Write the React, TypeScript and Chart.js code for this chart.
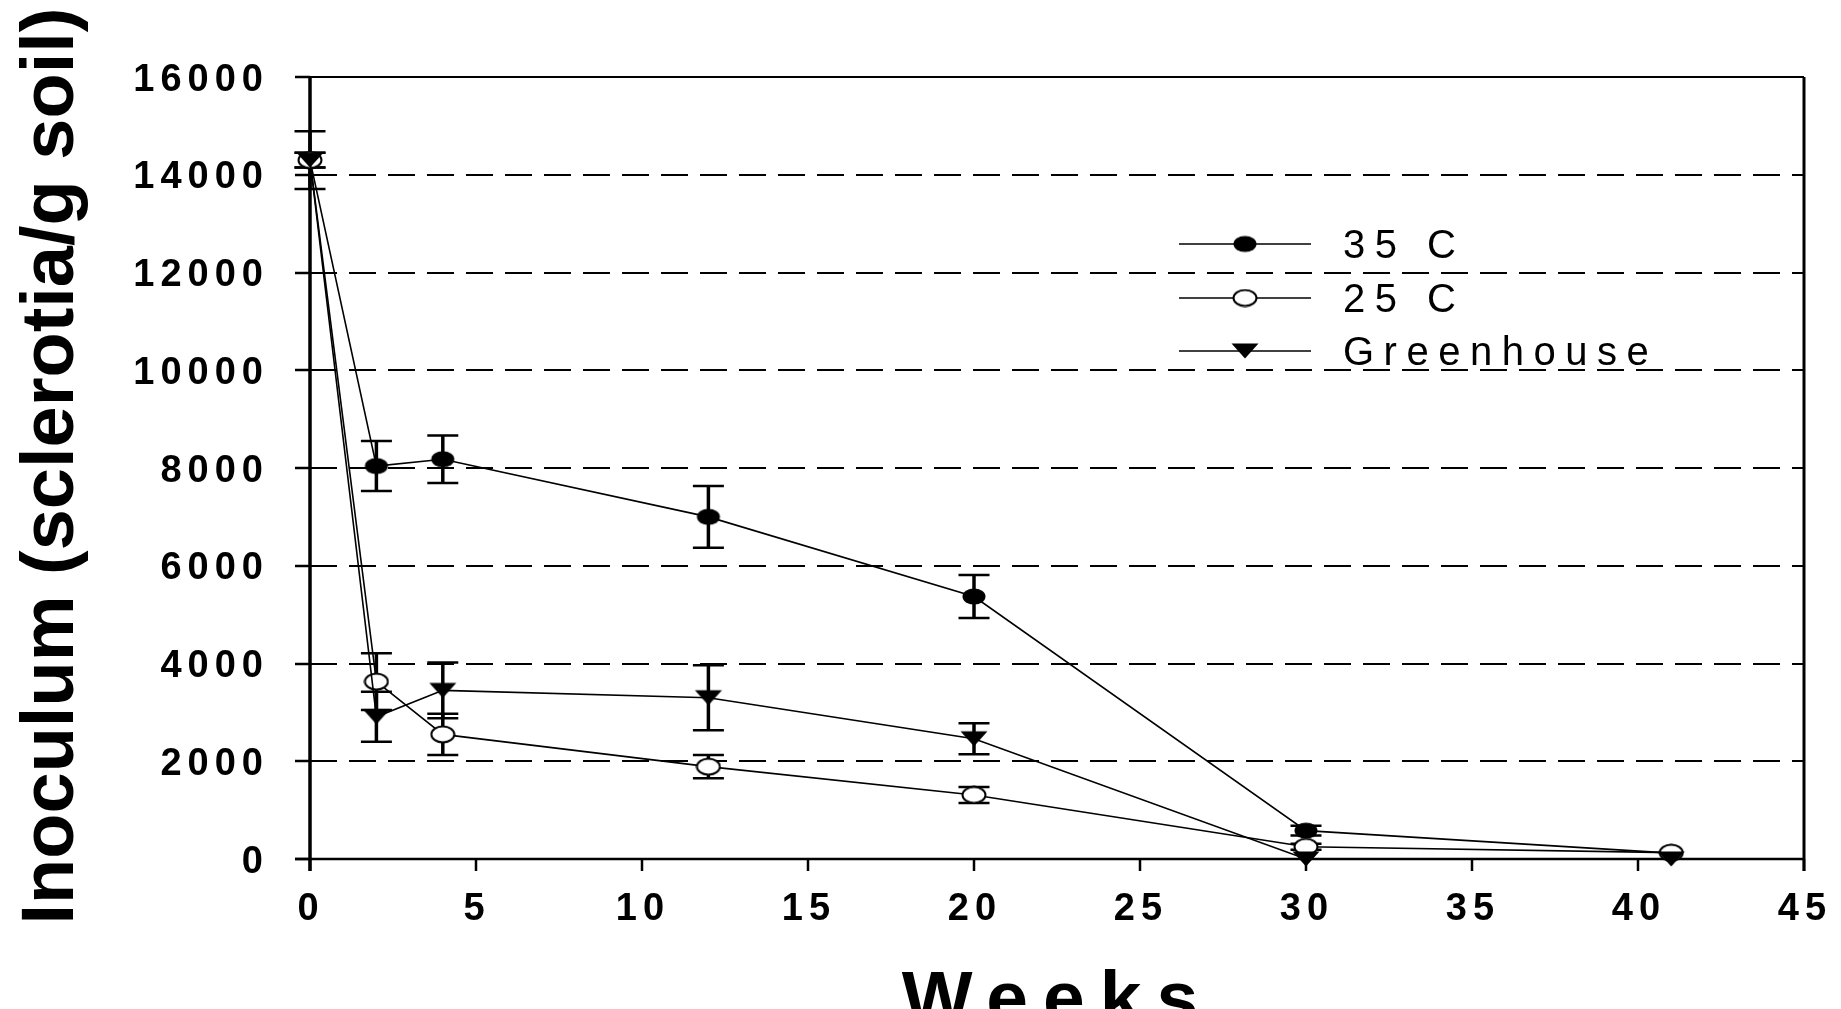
import React, { useEffect, useRef } from "react";
import { Chart, registerables } from "chart.js";

Chart.register(...registerables);

// ---------- data ----------
const weeks = [0, 2, 4, 12, 20, 30, 41];
const temp35 = [14300, 8040, 8180, 7000, 5370, 580, 120];
const temp35Err = [590, 510, 485, 630, 440, 100, 0];
const temp25 = [14300, 3630, 2550, 1890, 1310, 250, 130];
const temp25Err = [150, 580, 420, 240, 165, 60, 0];
const greenhouse = [14300, 2910, 3450, 3300, 2460, 0, 0];
const greenhouseErr = [150, 510, 570, 665, 315, 0, 0];
const seriesNames = ["35 C", "25 C", "Greenhouse"];
const xTicks = [0, 5, 10, 15, 20, 25, 30, 35, 40, 45];
const yTicks = [0, 2000, 4000, 6000, 8000, 10000, 12000, 14000, 16000];
const xTitle = "Weeks";
const yTitle = "Inoculum (sclerotia/g soil)";

const FONT = '"Liberation Sans", Arial, Helvetica, sans-serif';
const W = 1841;
const H = 1009;

function makeMarker(kind: string): HTMLCanvasElement {
  const c = document.createElement("canvas");
  const ctx = c.getContext("2d")!;
  if (kind === "triangle") {
    c.width = 30;
    c.height = 18;
    ctx.fillStyle = "#000";
    ctx.beginPath();
    ctx.moveTo(1.5, 1.5);
    ctx.lineTo(28.5, 1.5);
    ctx.lineTo(15, 16.5);
    ctx.closePath();
    ctx.fill();
  } else {
    c.width = 26;
    c.height = 19;
    ctx.beginPath();
    ctx.ellipse(13, 9.5, 11.5, 8, 0, 0, Math.PI * 2);
    if (kind === "filled") {
      ctx.fillStyle = "#000";
      ctx.fill();
    } else {
      ctx.fillStyle = "#fff";
      ctx.fill();
      ctx.lineWidth = 2;
      ctx.strokeStyle = "#000";
      ctx.stroke();
    }
  }
  return c;
}

function setSpacing(ctx: CanvasRenderingContext2D, px: number) {
  (ctx as any).letterSpacing = px + "px";
}

function textWidth(ctx: CanvasRenderingContext2D, t: string, spacing: number) {
  return ctx.measureText(t).width - spacing;
}

export default function App() {
  const ref = useRef<HTMLCanvasElement | null>(null);

  useEffect(() => {
    document.body.style.margin = "0";
    document.body.style.overflow = "hidden";
    const canvas = ref.current!;
    const markers = [makeMarker("filled"), makeMarker("open"), makeMarker("triangle")];
    const values = [temp35, temp25, greenhouse];
    const errors = [temp35Err, temp25Err, greenhouseErr];

    const decor = {
      id: "decor",
      beforeDatasetsDraw(chart: any) {
        const ctx: CanvasRenderingContext2D = chart.ctx;
        const xs = chart.scales.x;
        const ys = chart.scales.y;
        const { left, right, top, bottom } = chart.chartArea;
        ctx.save();
        ctx.strokeStyle = "#000";
        ctx.fillStyle = "#000";

        // dashed grid lines
        ctx.lineWidth = 2;
        ctx.setLineDash([27, 12]);
        yTicks.forEach((v) => {
          if (v === yTicks[0] || v === yTicks[yTicks.length - 1]) return;
          const y = Math.round(ys.getPixelForValue(v));
          ctx.beginPath();
          ctx.moveTo(left, y);
          ctx.lineTo(right, y);
          ctx.stroke();
        });
        ctx.setLineDash([]);

        // frame
        ctx.lineWidth = 2;
        ctx.beginPath();
        ctx.moveTo(left - 15, top);
        ctx.lineTo(right, top);
        ctx.stroke();
        ctx.lineWidth = 3;
        ctx.beginPath();
        ctx.moveTo(right, top);
        ctx.lineTo(right, bottom + 12);
        ctx.stroke();
        ctx.lineWidth = 2.5;
        ctx.beginPath();
        ctx.moveTo(left - 15, bottom);
        ctx.lineTo(right, bottom);
        ctx.stroke();
        ctx.lineWidth = 3.5;
        ctx.beginPath();
        ctx.moveTo(left, top);
        ctx.lineTo(left, bottom + 12);
        ctx.stroke();

        // y ticks
        ctx.lineWidth = 2.5;
        yTicks.forEach((v) => {
          const y = Math.round(ys.getPixelForValue(v));
          ctx.beginPath();
          ctx.moveTo(left - 15, y);
          ctx.lineTo(left, y);
          ctx.stroke();
        });
        // x ticks
        xTicks.forEach((v) => {
          const x = Math.round(xs.getPixelForValue(v));
          ctx.beginPath();
          ctx.moveTo(x, bottom);
          ctx.lineTo(x, bottom + 12);
          ctx.stroke();
        });

        // tick labels
        ctx.font = "bold 38px " + FONT;
        ctx.textBaseline = "alphabetic";
        ctx.textAlign = "left";
        setSpacing(ctx, 6);
        yTicks.forEach((v) => {
          const y = ys.getPixelForValue(v);
          const t = String(v);
          const w = textWidth(ctx, t, 6);
          ctx.fillText(t, left - 47 - w, y + 13.5);
        });
        xTicks.forEach((v) => {
          const x = xs.getPixelForValue(v);
          const t = String(v);
          const w = textWidth(ctx, t, 6);
          ctx.fillText(t, x - w / 2 - 2, bottom + 61);
        });

        // x title
        ctx.font = "bold 75px " + FONT;
        setSpacing(ctx, 15);
        const tw = textWidth(ctx, xTitle, 15);
        ctx.fillText(xTitle, (left + right) / 2 - 7 - tw / 2, 1023);

        // y title
        setSpacing(ctx, 0);
        ctx.font = "bold 74px " + FONT;
        ctx.save();
        ctx.translate(73, (top + bottom) / 2 - 2);
        ctx.rotate(-Math.PI / 2);
        ctx.textAlign = "center";
        ctx.fillText(yTitle, 0, 0);
        ctx.restore();

        // error bars
        values.forEach((vals, si) => {
          const errs = errors[si];
          vals.forEach((v, i) => {
            const e = errs[i];
            if (!e) return;
            const x = xs.getPixelForValue(weeks[i]);
            const yTop = ys.getPixelForValue(v + e);
            const yBot = ys.getPixelForValue(Math.max(v - e, 0));
            ctx.lineWidth = 3.5;
            ctx.beginPath();
            ctx.moveTo(x, yTop);
            ctx.lineTo(x, yBot);
            ctx.stroke();
            ctx.lineWidth = 2.5;
            ctx.beginPath();
            ctx.moveTo(x - 15.5, yTop);
            ctx.lineTo(x + 15.5, yTop);
            ctx.moveTo(x - 15.5, yBot);
            ctx.lineTo(x + 15.5, yBot);
            ctx.stroke();
          });
        });
        ctx.restore();
      },
      afterDatasetsDraw(chart: any) {
        const ctx: CanvasRenderingContext2D = chart.ctx;
        ctx.save();
        const rows = [244, 298, 351];
        ctx.strokeStyle = "#000";
        ctx.fillStyle = "#000";
        ctx.font = "40px " + FONT;
        ctx.textAlign = "left";
        ctx.textBaseline = "alphabetic";
        setSpacing(ctx, 9.5);
        seriesNames.forEach((name, i) => {
          const y = rows[i];
          ctx.lineWidth = 1.6;
          ctx.beginPath();
          ctx.moveTo(1179, y);
          ctx.lineTo(1311, y);
          ctx.stroke();
          const m = markers[i];
          ctx.drawImage(m, 1245 - m.width / 2, y - m.height / 2);
          ctx.fillText(name, 1343, y + 14);
        });
        ctx.restore();
      },
    };

    const orders = [2, 1, 0];
    const datasets = values.map((vals, si) => ({
      label: seriesNames[si],
      data: weeks.map((w, i) => ({ x: w, y: vals[i] })),
      borderColor: "#000",
      backgroundColor: "#000",
      borderWidth: 1.6,
      pointStyle: markers[si],
      pointRadius: 10,
      pointHoverRadius: 10,
      tension: 0,
      order: orders[si],
      clip: false as any,
      fill: false,
    }));

    const chart = new Chart(canvas, {
      type: "line",
      data: { datasets: datasets as any },
      options: {
        animation: false,
        responsive: false,
        devicePixelRatio: 1,
        events: [],
        layout: { padding: { left: 310, top: 77, right: W - 1804, bottom: H - 859 } },
        scales: {
          x: { type: "linear", min: 0, max: 45, display: false },
          y: { type: "linear", min: 0, max: 16000, display: false },
        },
        plugins: {
          legend: { display: false },
          tooltip: { enabled: false },
        },
      },
      plugins: [decor],
    });
    return () => chart.destroy();
  }, []);

  return (
    <canvas
      ref={ref}
      width={W}
      height={H}
      style={{ display: "block", width: W + "px", height: H + "px", background: "#fff" }}
    />
  );
}
